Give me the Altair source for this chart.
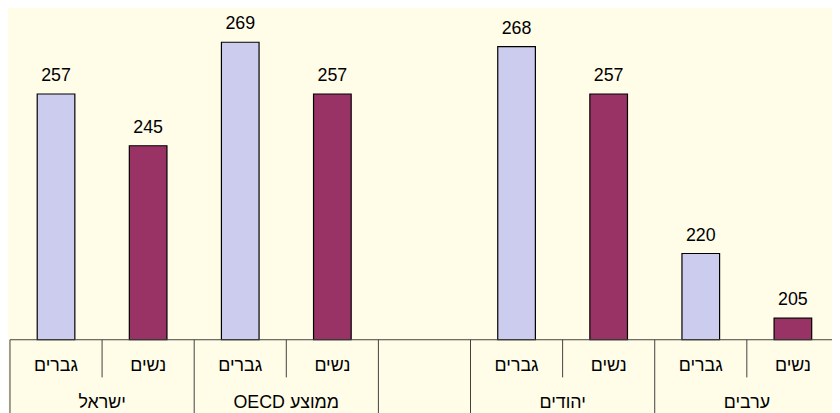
import altair as alt
import pandas as pd

# ---- data ----
groups = ["ישראל", "ישראל", "ממוצע OECD", "ממוצע OECD", "", "יהודים", "יהודים", "ערבים", "ערבים"]
genders = ["גברים", "נשים", "גברים", "נשים", "", "גברים", "נשים", "גברים", "נשים"]
values = [257, 245, 269, 257, None, 268, 257, 220, 205]

slots = [f"{g}|{s}" if g else "gap" for g, s in zip(groups, genders)]
df = pd.DataFrame({"slot": slots, "group": groups, "gender": genders, "value": values})
# right-to-left embedding so mixed Hebrew/Latin labels read as in the original
df["group_rtl"] = ["\u202b" + g + "\u202c" for g in groups]
df["gender_rtl"] = ["\u202b" + s + "\u202c" for s in genders]
bars_df = df[df["value"].notna()]

BG = "#FFFCE8"
FONT = "Liberation Sans"

xscale = alt.Scale(domain=slots, range=[0, 837], paddingInner=0, paddingOuter=0)
yscale = alt.Scale(domain=[200, 276.5], zero=False, nice=False)
cscale = alt.Scale(domain=["גברים", "נשים"], range=["#CCCCEE", "#993366"])

base = alt.Chart(bars_df)

bars = base.mark_bar(size=38, stroke="black", strokeWidth=1.2).encode(
    x=alt.X("slot:N", scale=xscale, axis=None, sort=slots),
    y=alt.Y("value:Q", scale=yscale, axis=None),
    y2=alt.datum(200),
    color=alt.Color("gender:N", scale=cscale, legend=None),
)

labels = base.mark_text(
    baseline="alphabetic", dy=-13, fontSize=18, font=FONT, fontWeight="normal", color="black"
).encode(
    x=alt.X("slot:N", scale=xscale, axis=None, sort=slots),
    y=alt.Y("value:Q", scale=yscale, axis=None),
    text=alt.Text("value:Q", format="d"),
)

axis_line = alt.Chart(pd.DataFrame({"a": [0]})).mark_rule(color="#404040", strokeWidth=1).encode(
    x=alt.value(0), x2=alt.value(837), y=alt.value(333)
)

tick_df = df.assign(kind=["short" if g == "נשים" else "long" for g in genders])

short_ticks = alt.Chart(tick_df).transform_filter(alt.datum.kind == "short").mark_rule(
    color="#404040", strokeWidth=1
).encode(
    x=alt.X("slot:N", scale=xscale, axis=None, bandPosition=0, sort=slots),
    y=alt.value(333), y2=alt.value(371),
)

long_ticks = alt.Chart(tick_df).transform_filter(alt.datum.kind == "long").mark_rule(
    color="#404040", strokeWidth=1
).encode(
    x=alt.X("slot:N", scale=xscale, axis=None, bandPosition=0, sort=slots),
    y=alt.value(333), y2=alt.value(420),
)

gender_text = alt.Chart(bars_df).mark_text(
    fontSize=18, font=FONT, fontWeight="normal", color="black", baseline="middle", align="center"
).encode(
    x=alt.X("slot:N", scale=xscale, axis=None, sort=slots),
    y=alt.value(360),
    text="gender_rtl:N",
)

group_text = alt.Chart(bars_df).transform_filter(alt.datum.gender == "נשים").mark_text(
    fontSize=18, font=FONT, fontWeight="normal", color="black", baseline="middle", align="center"
).encode(
    x=alt.X("slot:N", scale=xscale, axis=None, bandPosition=0, sort=slots),
    y=alt.value(397),
    text="group_rtl:N",
)

chart = alt.layer(
    bars, labels, axis_line, short_ticks, long_ticks, gender_text, group_text
).properties(
    width=830,
    height=333,
    background=BG,
    autosize=alt.AutoSizeParams(type="none"),
    padding={"left": 2, "top": 0, "right": 0, "bottom": 72},
).configure_view(stroke=None)

chart.save("out.html", embed_options={"renderer": "svg", "actions": False})
